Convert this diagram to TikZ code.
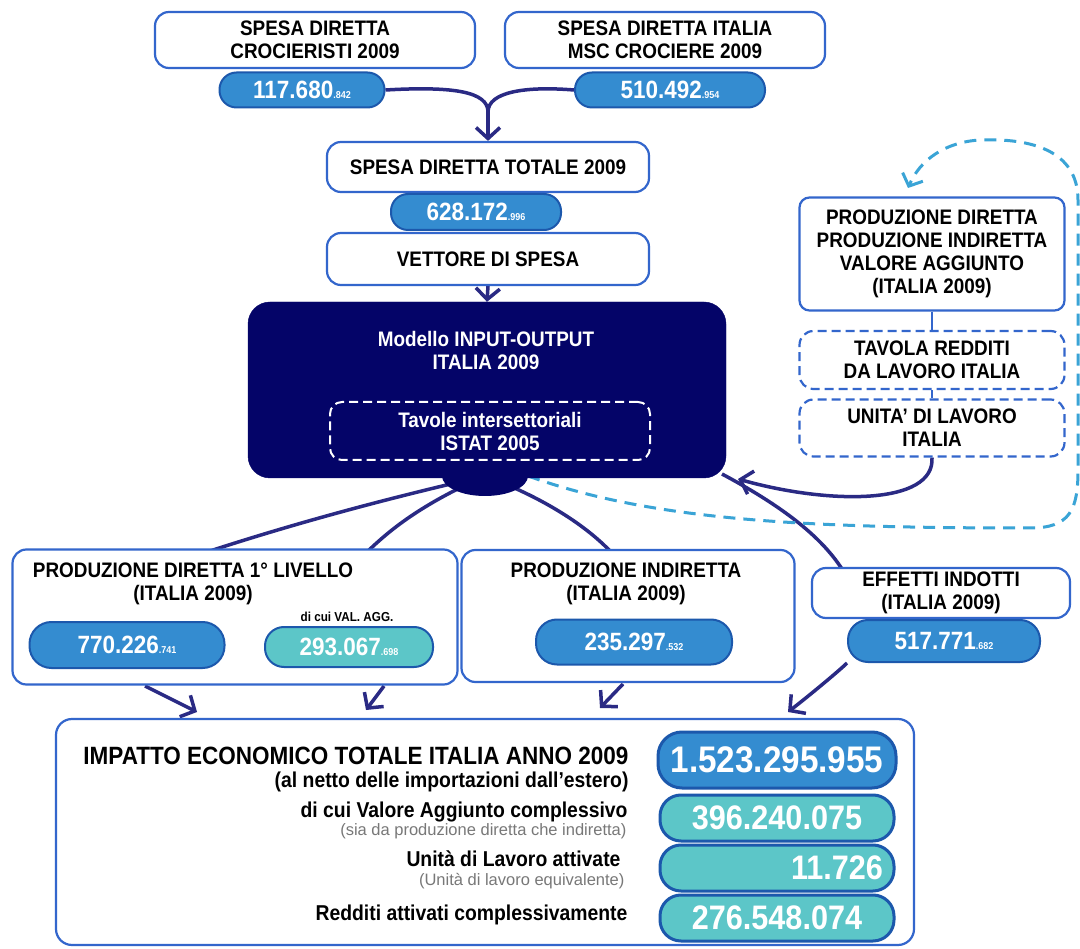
\documentclass[tikz,border=0pt]{standalone}
\usepackage{fontspec}
\setmainfont{Liberation Sans}[FakeStretch=0.9]
\newfontfamily\grayfont{Liberation Sans}
\usetikzlibrary{arrows.meta,shapes.geometric}
\definecolor{bord}{RGB}{51,102,204}
\definecolor{pillblue}{RGB}{52,140,208}
\definecolor{pillbord}{RGB}{28,88,172}
\definecolor{tealc}{RGB}{92,198,200}
\definecolor{navyc}{RGB}{4,4,104}
\definecolor{arrnavy}{RGB}{42,42,132}
\definecolor{dcyan}{RGB}{58,164,214}
\definecolor{grayt}{RGB}{120,120,120}
\newcommand\lab{\fontsize{21}{23}\selectfont\bfseries}
\newcommand\numf{\fontsize{25}{27}\selectfont\bfseries}
\newcommand\sm[1]{{\fontsize{10}{10}\selectfont #1}}
\pgfdeclarelayer{back}
\pgfsetlayers{back,main}
\tikzset{
  wbox/.style={draw=bord, line width=2.2pt, fill=white, rounded corners=14pt, align=center, font=\lab, inner sep=0pt},
  dbox/.style={wbox, dash pattern=on 9pt off 5pt},
  pill/.style={draw=pillbord, line width=2pt, fill=pillblue, rounded corners=17pt, text=white, font=\numf, inner sep=0pt},
  tpill/.style={pill, fill=tealc},
  conn/.style={draw=arrnavy, line width=3.5pt},
  arr/.style={-{Straight Barb[length=11pt,width=24pt]}},
  dline/.style={draw=dcyan, line width=3pt, dash pattern=on 12pt off 8pt},
  rlab/.style={anchor=base east, font=\fontsize{21.5}{23}\selectfont\bfseries},
  glab/.style={anchor=base east, text=grayt, font=\grayfont\fontsize{16.5}{18}\selectfont},
  bnum/.style={tpill, line width=3pt, minimum width=234, minimum height=46, rounded corners=21pt, font=\fontsize{34}{35}\selectfont\bfseries},
}
\begin{document}
\begin{tikzpicture}[x=1pt,y=-1pt]
\useasboundingbox (0,0) rectangle (1080,949);
% top
\node[wbox, minimum width=320, minimum height=56] (sdc) at (315,40) {SPESA DIRETTA\\CROCIERISTI 2009};
\node[pill, minimum width=165, minimum height=35] (p1) at (302,90) {117.680\sm{.842}};
\node[wbox, minimum width=320, minimum height=56] (sdi) at (665,40) {SPESA DIRETTA ITALIA\\MSC CROCIERE 2009};
\node[pill, minimum width=190, minimum height=35] (p2) at (670,90) {510.492\sm{.954}};
\node[wbox, minimum width=322, minimum height=50] (sdt) at (488,167) {SPESA DIRETTA TOTALE 2009};
\node[wbox, minimum width=322, minimum height=52] (vet) at (488,259) {VETTORE DI SPESA};
\node[pill, minimum width=170, minimum height=36] (p3) at (476,212) {628.172\sm{.996}};
% IO
\node[draw=navyc, fill=navyc, rounded corners=22pt, minimum width=478, minimum height=176, inner sep=0pt] (io) at (487,390) {};
\node[ellipse, fill=navyc, minimum width=86, minimum height=40, inner sep=0pt] (bump) at (485,476) {};
\node[text=white, font=\lab, align=center] (iot) at (486,350) {Modello INPUT-OUTPUT\\ITALIA 2009};
\node[draw=white, line width=2pt, dash pattern=on 9pt off 5pt, rounded corners=12pt, minimum width=320, minimum height=58, inner sep=0pt, text=white, font=\lab, align=center] (ist) at (490,431) {Tavole intersettoriali\\ISTAT 2005};
% right column
\node[wbox, rounded corners=10pt, minimum width=265, minimum height=113] (pdr) at (932,254) {PRODUZIONE DIRETTA\\PRODUZIONE INDIRETTA\\VALORE AGGIUNTO\\(ITALIA 2009)};
\node[dbox, minimum width=265, minimum height=58] (tav) at (932,360) {TAVOLA REDDITI\\DA LAVORO ITALIA};
\node[dbox, minimum width=265, minimum height=57] (uni) at (932,428) {UNITA' DI LAVORO\\ITALIA};
% middle row
\node[wbox, minimum width=445, minimum height=135] (pd1) at (235,617) {};
\node[font=\lab, align=center] (pd1t) at (193,584) {PRODUZIONE DIRETTA 1° LIVELLO\\(ITALIA 2009)};
\node[pill, minimum width=195, minimum height=46, rounded corners=22pt] (n770) at (127,645) {770.226\sm{.741}};
\node[font=\fontsize{13}{13}\selectfont\bfseries] (dcv) at (347,617) {di cui VAL. AGG.};
\node[tpill, minimum width=168, minimum height=40, rounded corners=19pt] (n293) at (349,647) {293.067\sm{.698}};
\node[wbox, minimum width=333, minimum height=132] (pi) at (628,616) {};
\node[font=\lab, align=center] (pit) at (626,584) {PRODUZIONE INDIRETTA\\(ITALIA 2009)};
\node[pill, minimum width=196, minimum height=45, rounded corners=21pt] (n235) at (634,642) {235.297\sm{.532}};
\node[wbox, minimum width=258, minimum height=50] (eff) at (941,593) {EFFETTI INDOTTI\\(ITALIA 2009)};
\node[pill, minimum width=192, minimum height=42, rounded corners=20pt] (n517) at (944,641) {517.771\sm{.682}};
% bottom
\node[wbox, rounded corners=16pt, minimum width=858, minimum height=226] (tot) at (485,832) {};
\node[anchor=base east, font=\fontsize{25}{27}\selectfont\bfseries] (l1) at (632,764) {IMPATTO ECONOMICO TOTALE ITALIA ANNO 2009};
\node[rlab] (l2) at (632,787) {(al netto delle importazioni dall'estero)};
\node[rlab] (l3) at (631,817) {di cui Valore Aggiunto complessivo};
\node[glab] (l4) at (630,835) {(sia da produzione diretta che indiretta)};
\node[rlab] (l5) at (624,866) {Unità di Lavoro attivate};
\node[glab] (l6) at (628,885) {(Unità di lavoro equivalente)};
\node[rlab] (l7) at (631,920) {Redditi attivati complessivamente};
\node[pill, line width=3pt, minimum width=238, minimum height=56, rounded corners=24pt, font=\fontsize{37}{38}\selectfont\bfseries] (b1) at (777,760) {1.523.295.955};
\node[bnum] (b2) at (777,818) {396.240.075};
\node[bnum, text width=212pt, align=right] (b3) at (777,868) {11.726};
\node[bnum] (b4) at (777,918) {276.548.074};
% connectors
\begin{pgfonlayer}{back}
\fill[white] (0,0) rectangle (1080,949);
\coordinate (j) at (488,112);
\draw[conn] (p1.east) .. controls (455,86) and (488,92) .. (j);
\draw[conn] (p2.west) .. controls (525,86) and (488,92) .. (j);
\draw[conn, arr] (j) -- (sdt.north);
\draw[conn, arr] (vet.south) -- (io.north);
\coordinate (c1) at (210,551);
\coordinate (c2) at (368,551);
\coordinate (c3) at (610,551);
\draw[conn] (bump.center) .. controls (380,500) and (290,525) .. (c1);
\draw[conn] (bump.center) .. controls (420,505) and (390,530) .. (c2);
\draw[conn] (bump.center) .. controls (550,500) and (590,530) .. (c3);
\coordinate (ioc) at (722,474);
\coordinate (effn) at (842,569);
\draw[conn] (ioc) .. controls (780,505) and (820,535) .. (effn);
\coordinate (ioa) at (738,479);
\draw[conn, arr] (uni.south) .. controls (935,505) and (830,505) .. (ioa);
\coordinate (pdra) at (908,188);
\draw[dline, -{Straight Barb[length=10pt,width=22pt]}] (bump.east) .. controls (650,520) and (800,528) .. (1030,528) .. controls (1070,528) and (1078,510) .. (1078,470) -- (1078,200) .. controls (1078,150) and (1030,138) .. (980,140) .. controls (945,142) and (920,160) .. (pdra);
\draw[bord, line width=1.5pt] (pdr.south) -- (tav.north);
\draw[bord, line width=1.5pt] (tav.south) -- (uni.north);
\coordinate (s1) at (145,686);
\coordinate (t1) at (197,712);
\coordinate (s2) at (384,686);
\coordinate (t2) at (366,710);
\coordinate (s3) at (623,684);
\coordinate (t3) at (600,708);
\coordinate (t4) at (788,712);
\draw[conn, arr] (s1) -- (t1);
\draw[conn, arr] (s2) -- (t2);
\draw[conn, arr] (s3) -- (t3);
\draw[conn, arr] (n517.south west) .. controls (840,670) and (810,695) .. (t4);
\end{pgfonlayer}
\end{tikzpicture}
\end{document}
